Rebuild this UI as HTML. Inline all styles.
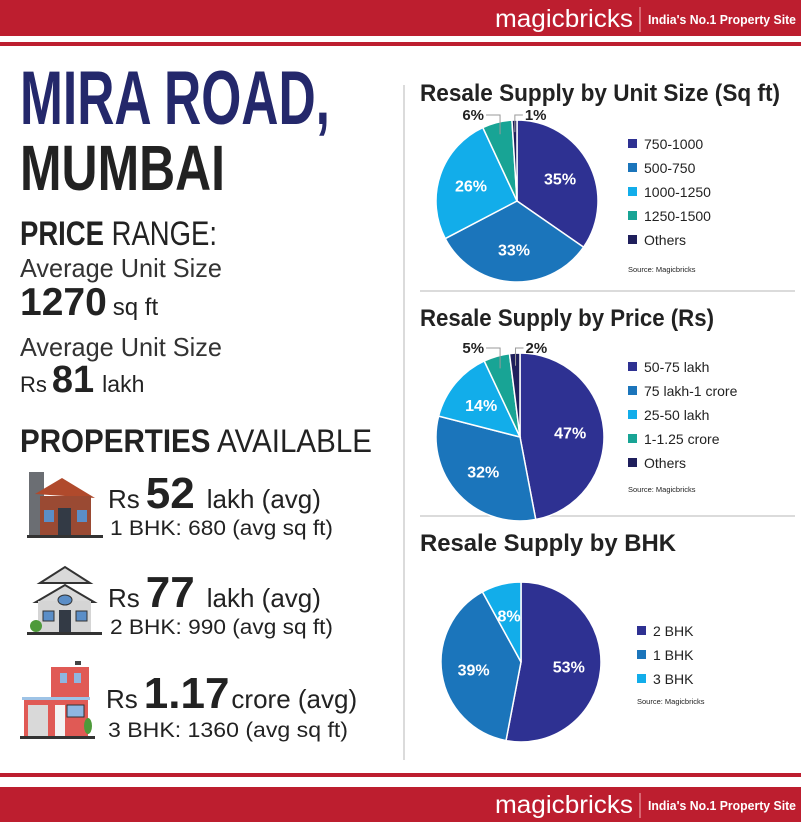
<!DOCTYPE html>
<html><head><meta charset="utf-8">
<style>
html,body{margin:0;padding:0;background:#fff;}
#root{position:relative;width:801px;height:822px;overflow:hidden;font-family:"Liberation Sans",sans-serif;}
svg text{font-family:"Liberation Sans",sans-serif;}
</style></head>
<body>
<div id="root">
<svg id="svg" width="801" height="822" viewBox="0 0 801 822" xmlns="http://www.w3.org/2000/svg">
  <rect x="0" y="0" width="801" height="36" fill="#bd1e2f"/>
  <rect x="0" y="42" width="801" height="4" fill="#bd1e2f"/>
  <text x="495" y="27" font-size="25" fill="#fff" textLength="138" lengthAdjust="spacingAndGlyphs">magicbricks</text>
  <line x1="640" y1="7" x2="640" y2="32" stroke="#f3b0b6" stroke-width="1"/>
  <text x="648" y="24" font-size="13" font-weight="bold" fill="#fff" textLength="148" lengthAdjust="spacingAndGlyphs">India's No.1 Property Site</text>
  <rect x="0" y="773" width="801" height="4" fill="#bd1e2f"/>
  <rect x="0" y="787" width="801" height="35" fill="#bd1e2f"/>
  <text x="495" y="813" font-size="25" fill="#fff" textLength="138" lengthAdjust="spacingAndGlyphs">magicbricks</text>
  <line x1="640" y1="793" x2="640" y2="818" stroke="#f3b0b6" stroke-width="1"/>
  <text x="648" y="810" font-size="13" font-weight="bold" fill="#fff" textLength="148" lengthAdjust="spacingAndGlyphs">India's No.1 Property Site</text>

  <line x1="404" y1="85" x2="404" y2="760" stroke="#cfcfcf" stroke-width="1.5"/>
  <line x1="420" y1="291" x2="795" y2="291" stroke="#cfcfcf" stroke-width="1.5"/>
  <line x1="420" y1="516" x2="795" y2="516" stroke="#cfcfcf" stroke-width="1.5"/>

  <text x="20" y="124" font-size="76" font-weight="bold" fill="#24286b" textLength="310" lengthAdjust="spacingAndGlyphs">MIRA ROAD,</text>
  <text x="20" y="190" font-size="64" font-weight="bold" fill="#222" textLength="205" lengthAdjust="spacingAndGlyphs">MUMBAI</text>
  <text x="20" y="245" font-size="34" fill="#222" textLength="197" lengthAdjust="spacingAndGlyphs"><tspan font-weight="bold">PRICE</tspan> RANGE:</text>
  <text x="20" y="277" font-size="26" fill="#333" textLength="202" lengthAdjust="spacingAndGlyphs">Average Unit Size</text>
  <text x="20" y="315" fill="#222"><tspan font-size="39" font-weight="bold">1270</tspan><tspan font-size="24" dx="6">sq ft</tspan></text>
  <text x="20" y="356" font-size="26" fill="#333" textLength="202" lengthAdjust="spacingAndGlyphs">Average Unit Size</text>
  <text x="20" y="392" fill="#222"><tspan font-size="22">Rs</tspan><tspan font-size="38" font-weight="bold" dx="5">81</tspan><tspan font-size="23" dx="8">lakh</tspan></text>
  <text x="20" y="452" font-size="32" fill="#222" textLength="352" lengthAdjust="spacingAndGlyphs"><tspan font-weight="bold">PROPERTIES</tspan> AVAILABLE</text>

  <g>
    <rect x="29" y="472" width="15" height="63" fill="#6b6e73"/>
    <polygon points="35,494 62,478 95,498" fill="#b04a2c"/>
    <rect x="40" y="496" width="51" height="39" fill="#9a4a33"/>
    <rect x="44" y="510" width="10" height="12" fill="#5b8ec7"/>
    <rect x="77" y="510" width="10" height="12" fill="#5b8ec7"/>
    <rect x="58" y="508" width="13" height="27" fill="#333a45"/>
    <rect x="27" y="535" width="76" height="3" fill="#333"/>
  </g>
  <text x="108" y="508" fill="#222"><tspan font-size="26">Rs</tspan><tspan font-size="44" font-weight="bold" dx="6">52</tspan><tspan font-size="26" dx="12">lakh (avg)</tspan></text>
  <text x="110" y="535" font-size="21" fill="#222" textLength="223" lengthAdjust="spacingAndGlyphs">1 BHK: 680 (avg sq ft)</text>

  <g>
    <polygon points="40,583 65,567 90,583" fill="#d9d9d9" stroke="#333" stroke-width="2"/>
    <polygon points="36,602 65,585 94,602" fill="#d9d9d9" stroke="#333" stroke-width="2"/>
    <rect x="38" y="601" width="53" height="31" fill="#d5d5d5"/>
    <ellipse cx="65" cy="600" rx="7" ry="5" fill="#5b8ec7" stroke="#333"/>
    <rect x="43" y="611" width="11" height="10" fill="#5b8ec7" stroke="#333"/>
    <rect x="76" y="611" width="11" height="10" fill="#5b8ec7" stroke="#333"/>
    <rect x="59" y="610" width="12" height="22" fill="#333a45"/>
    <circle cx="36" cy="626" r="6" fill="#4e9a3a"/>
    <rect x="27" y="632" width="75" height="3" fill="#333"/>
  </g>
  <text x="108" y="607" fill="#222"><tspan font-size="26">Rs</tspan><tspan font-size="44" font-weight="bold" dx="6">77</tspan><tspan font-size="26" dx="12">lakh (avg)</tspan></text>
  <text x="110" y="634" font-size="21" fill="#222" textLength="223" lengthAdjust="spacingAndGlyphs">2 BHK: 990 (avg sq ft)</text>

  <g>
    <rect x="75" y="661" width="6" height="4" fill="#444"/>
    <rect x="51" y="667" width="38" height="30" fill="#e05a55"/>
    <rect x="60" y="673" width="7" height="10" fill="#8fb6e0"/>
    <rect x="74" y="673" width="7" height="10" fill="#8fb6e0"/>
    <rect x="22" y="697" width="68" height="3" fill="#9ec3e6"/>
    <rect x="24" y="700" width="64" height="36" fill="#e05a55"/>
    <rect x="28" y="705" width="20" height="31" fill="#d9d9d9"/>
    <rect x="55" y="705" width="10" height="31" fill="#f3f3f3"/>
    <rect x="67" y="705" width="17" height="12" fill="#8fb6e0" stroke="#333" stroke-width="1"/>
    <ellipse cx="88" cy="726" rx="4" ry="8" fill="#4e9a3a"/>
    <rect x="20" y="736" width="75" height="3" fill="#333"/>
  </g>
  <text x="106" y="708" fill="#222"><tspan font-size="26">Rs</tspan><tspan font-size="44" font-weight="bold" dx="6">1.17</tspan><tspan font-size="26" dx="2">crore (avg)</tspan></text>
  <text x="108" y="737" font-size="21" fill="#222" textLength="240" lengthAdjust="spacingAndGlyphs">3 BHK: 1360 (avg sq ft)</text>

  <text x="420" y="101" font-size="24" font-weight="bold" fill="#222" textLength="360" lengthAdjust="spacingAndGlyphs">Resale Supply by Unit Size (Sq ft)</text>
  <text x="420" y="326" font-size="24" font-weight="bold" fill="#222" textLength="294" lengthAdjust="spacingAndGlyphs">Resale Supply by Price (Rs)</text>
  <text x="420" y="551" font-size="24" font-weight="bold" fill="#222" textLength="256" lengthAdjust="spacingAndGlyphs">Resale Supply by BHK</text>
  <g id="charts"></g>
</svg>
</div>
<script>
const unitCategories = ["750-1000","500-750","1000-1250","1250-1500","Others"];
const unitValues = [35,33,26,6,1];
const priceCategories = ["50-75 lakh","75 lakh-1 crore","25-50 lakh","1-1.25 crore","Others"];
const priceValues = [47,32,14,5,2];
const bhkCategories = ["2 BHK","1 BHK","3 BHK"];
const bhkValues = [53,39,8];
const sliceColors = ["#2e3192","#1b75bb","#12adea","#18a495","#1f1f5c"];

const NS = "http://www.w3.org/2000/svg";
const host = document.getElementById("charts");
function mk(tag, attrs, parent){ const e=document.createElementNS(NS,tag); for(const k in attrs) e.setAttribute(k,attrs[k]); (parent||host).appendChild(e); return e; }

function drawPie(name, cats, vals, cx, cy, r, legX, legY, legStep, srcY, outside){
  const g = mk("g",{});
  
  
  const total = vals.reduce((a,b)=>a+b,0);
  let a0 = -Math.PI/2;
  vals.forEach((v,i)=>{
    const a1 = a0 + v/total*2*Math.PI;
    const large = (a1-a0)>Math.PI?1:0;
    const x0=cx+r*Math.cos(a0), y0=cy+r*Math.sin(a0), x1=cx+r*Math.cos(a1), y1=cy+r*Math.sin(a1);
    const p = mk("path",{d:`M${cx},${cy} L${x0},${y0} A${r},${r} 0 ${large} 1 ${x1},${y1} Z`, fill:sliceColors[i], stroke:"#fff","stroke-width":"1.5"}, g);
    
    
    const am=(a0+a1)/2;
    if (v/total >= 0.07){
      const t = mk("text",{x:cx+0.6*r*Math.cos(am), y:cy+0.6*r*Math.sin(am)+6, "font-size":"16","font-weight":"bold",fill:"#fff","text-anchor":"middle"}, g);
      t.textContent = v+"%";
      
      
    } else if (outside) {
      const ex=cx+0.85*r*Math.cos(am), ey=cy+0.85*r*Math.sin(am);
      const ty=cy-r-5;
      const left = Math.cos(am)<0 && i!==vals.length-1;
      const lx = left ? ex-14 : ex+8;
      mk("polyline",{points:`${ex},${ey} ${ex},${ty} ${lx},${ty}`,fill:"none",stroke:"#999","stroke-width":"1"}, g);
      const t = mk("text",{x:left?lx-2:lx+2, y:ty+5, "font-size":"15","font-weight":"bold",fill:"#222","text-anchor":left?"end":"start"}, g);
      t.textContent = v+"%";
      
      
    }
    a0=a1;
  });
  cats.forEach((c,i)=>{
    const y = legY + i*legStep;
    const s = mk("rect",{x:legX,y:y-5,width:9,height:9,fill:sliceColors[i]}, g);
    
    
    const t = mk("text",{x:legX+16,y:y+5,"font-size":"14",fill:"#222"}, g);
    t.textContent = c;
    
    
  });
  const src = mk("text",{x:legX,y:srcY,"font-size":"7.5",fill:"#222"}, g);
  src.textContent = "Source: Magicbricks";
  
  
}
drawPie("unit-size-pie", unitCategories, unitValues, 517, 201, 81, 628, 144, 24, 272, true);
drawPie("price-pie", priceCategories, priceValues, 520, 437, 84, 628, 367, 24, 492, true);
drawPie("bhk-pie", bhkCategories, bhkValues, 521, 662, 80, 637, 631, 24, 704, false);
</script>
</body></html>
